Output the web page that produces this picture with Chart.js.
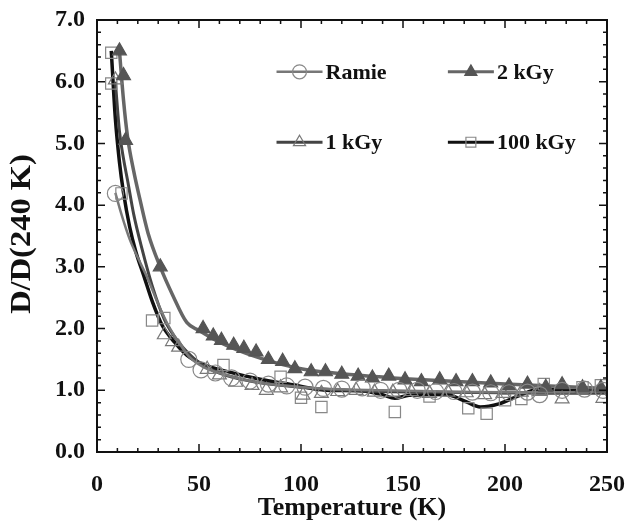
<!DOCTYPE html>
<html>
<head>
<meta charset="utf-8">
<script src="https://cdn.jsdelivr.net/npm/chart.js@4.4.1/dist/chart.umd.min.js"></script>
<style>
  html, body { margin: 0; padding: 0; background: #fff; }
  #wrap { width: 627px; height: 525px; }
</style>
</head>
<body>
<div id="wrap"><canvas id="DiffChart" width="627" height="525"></canvas></div>
<script>
// measured points (markers)
const ramieT = [9, 45, 51, 58, 66, 75, 84, 93, 102, 111, 120, 130, 139, 148, 157, 166, 175, 184, 193, 202, 211, 217, 228, 239, 248];
const ramieD = [4.19, 1.50, 1.33, 1.28, 1.20, 1.15, 1.10, 1.07, 1.05, 1.03, 1.02, 1.04, 1.00, 1.00, 1.00, 0.98, 0.98, 0.97, 0.96, 0.96, 0.97, 0.93, 1.00, 1.02, 1.00];

const kGy1T = [9, 33, 37, 40, 54, 60, 68, 76, 83, 90, 101, 110, 118, 127, 136, 145, 154, 163, 172, 181, 190, 199, 208, 217, 228, 248];
const kGy1D = [6.03, 1.90, 1.79, 1.70, 1.34, 1.25, 1.13, 1.08, 1.00, 1.04, 0.92, 0.95, 0.98, 1.00, 0.97, 0.97, 0.98, 0.95, 0.97, 0.96, 0.93, 0.95, 0.97, 0.98, 0.86, 0.87];

const kGy2T = [11, 13, 14, 31, 52, 57, 61, 67, 72, 78, 84, 91, 97, 105, 112, 120, 128, 135, 143, 151, 159, 168, 176, 184, 193, 202, 211, 220, 228, 238, 247];
const kGy2D = [6.50, 6.10, 5.05, 3.00, 2.00, 1.88, 1.81, 1.73, 1.68, 1.62, 1.50, 1.47, 1.35, 1.30, 1.30, 1.26, 1.23, 1.20, 1.23, 1.17, 1.14, 1.17, 1.14, 1.14, 1.12, 1.07, 1.10, 1.05, 1.09, 1.04, 1.04];

const kGy100T = [7, 7, 12, 27, 33, 62, 90, 100, 110, 146, 163, 182, 191, 200, 208, 219, 238, 247];
const kGy100D = [6.47, 5.97, 4.19, 2.13, 2.17, 1.41, 1.22, 0.88, 0.73, 0.65, 0.90, 0.71, 0.62, 0.84, 0.86, 1.10, 1.05, 1.08];

// fitted curves
const fitRamieT = [9, 12, 16, 20, 25, 30, 35, 40, 45, 52, 60, 75, 90, 110, 140, 170, 200, 230, 250];
const fitRamieD = [4.20, 3.85, 3.45, 3.15, 2.80, 2.40, 2.05, 1.78, 1.55, 1.38, 1.28, 1.15, 1.08, 1.03, 1.00, 0.98, 0.97, 0.97, 0.98];

const fit1T = [9, 11, 13, 15, 18, 22, 27, 33, 40, 50, 60, 75, 90, 110, 140, 170, 200, 230, 250];
const fit1D = [6.00, 5.20, 4.75, 4.40, 3.85, 3.30, 2.70, 2.15, 1.78, 1.45, 1.28, 1.15, 1.08, 1.02, 0.98, 0.97, 0.96, 0.95, 0.95];

const fit2T = [11, 13, 15, 18, 21, 25, 31, 37, 44, 50, 60, 80, 100, 130, 160, 200, 250];
const fit2D = [6.50, 5.70, 5.10, 4.55, 4.10, 3.55, 3.00, 2.55, 2.10, 1.97, 1.78, 1.52, 1.35, 1.24, 1.17, 1.10, 1.03];

const fit100T = [7, 9, 11, 13, 16, 19, 23, 27, 32, 38, 44, 52, 63, 80, 96, 112, 130, 140, 146, 153, 171, 180, 188, 197, 206, 217, 232, 250];
const fit100D = [6.50, 5.40, 4.70, 4.20, 3.65, 3.25, 2.85, 2.45, 2.05, 1.78, 1.57, 1.42, 1.31, 1.18, 1.09, 1.00, 0.99, 0.93, 0.87, 0.92, 0.93, 0.83, 0.73, 0.78, 0.90, 1.02, 1.00, 0.99];

// axis ticks
const xTicks = [0, 50, 100, 150, 200, 250];
const yTicks = [0, 1, 2, 3, 4, 5, 6, 7];
const legendNames = ['Ramie', '2 kGy', '1 kGy', '100 kGy'];

const serif = "'Liberation Serif', 'Times New Roman', serif";

function pts(xs, ys) {
  return xs.map(function (x, i) { return { x: x, y: ys[i] }; });
}

function fitSet(label, xs, ys, color, width) {
  return {
    label: label,
    data: pts(xs, ys),
    showLine: true,
    borderColor: color,
    borderWidth: width,
    pointRadius: 0,
    cubicInterpolationMode: 'monotone',
    fill: false,
    order: 5
  };
}

function markSet(label, xs, ys, style, fillColor, strokeColor, radius) {
  return {
    label: label,
    data: pts(xs, ys),
    showLine: false,
    pointStyle: style,
    pointRadius: radius,
    pointBackgroundColor: fillColor,
    pointBorderColor: strokeColor,
    pointBorderWidth: 1.2,
    order: 1
  };
}

// legend entries: line + marker
const legendItems = [
  { name: legendNames[0], col: 0, row: 0, line: '#777', lw: 2.5, style: 'circle', fill: 'rgba(0,0,0,0)', stroke: '#888' },
  { name: legendNames[1], col: 1, row: 0, line: '#666', lw: 3, style: 'triangle', fill: '#555', stroke: '#555' },
  { name: legendNames[2], col: 0, row: 1, line: '#444', lw: 3, style: 'triangle', fill: 'rgba(0,0,0,0)', stroke: '#777' },
  { name: legendNames[3], col: 1, row: 1, line: '#111', lw: 3, style: 'rect', fill: 'rgba(0,0,0,0)', stroke: '#888' }
];

const framePlugin = {
  id: 'frame',
  afterDraw: function (chart) {
    const ctx = chart.ctx;
    const a = chart.chartArea;
    const xs = chart.scales.x;
    const ys = chart.scales.y;
    ctx.save();
    ctx.strokeStyle = '#111';
    ctx.lineWidth = 2;
    ctx.strokeRect(a.left, a.top, a.right - a.left, a.bottom - a.top);

    ctx.lineWidth = 1.5;
    ctx.beginPath();
    // x ticks, minor every 10
    for (let v = xs.min; v <= xs.max; v += 10) {
      const p = xs.getPixelForValue(v);
      const len = (v % 50 === 0) ? 8 : 4;
      ctx.moveTo(p, a.bottom); ctx.lineTo(p, a.bottom - len);
      ctx.moveTo(p, a.top); ctx.lineTo(p, a.top + len);
    }
    // y ticks, minor every 0.2
    for (let k = 0; k <= 35; k++) {
      const v = k * 0.2;
      const p = ys.getPixelForValue(v);
      const len = (k % 5 === 0) ? 8 : 4;
      ctx.moveTo(a.left, p); ctx.lineTo(a.left + len, p);
      ctx.moveTo(a.right, p); ctx.lineTo(a.right - len, p);
    }
    ctx.stroke();

    // axis titles
    ctx.fillStyle = '#111';
    ctx.textAlign = 'center';
    ctx.textBaseline = 'middle';
    ctx.font = 'bold 26px ' + serif;
    ctx.fillText('Temperature (K)', (a.left + a.right) / 2, 508);
    ctx.save();
    ctx.translate(23, 234);
    ctx.rotate(-Math.PI / 2);
    ctx.scale(1.12, 1);
    ctx.font = 'bold 29px ' + serif;
    ctx.fillText('D/D(240 K)', 0, 0);
    ctx.restore();

    // legend
    const lx0 = xs.getPixelForValue(88);
    const colW = xs.getPixelForValue(172) - lx0;
    const ly0 = ys.getPixelForValue(6.16);
    const rowH = ys.getPixelForValue(5.02) - ly0;
    ctx.font = 'bold 22px ' + serif;
    ctx.textAlign = 'left';
    legendItems.forEach(function (it) {
      const x = lx0 + it.col * colW;
      const y = ly0 + it.row * rowH;
      ctx.strokeStyle = it.line;
      ctx.lineWidth = it.lw;
      ctx.beginPath();
      ctx.moveTo(x, y); ctx.lineTo(x + 46, y);
      ctx.stroke();
      ctx.fillStyle = it.fill;
      ctx.strokeStyle = it.stroke;
      ctx.lineWidth = 1.2;
      Chart.helpers.drawPoint(ctx, { pointStyle: it.style, radius: 7, rotation: 0, borderWidth: 1.2 }, x + 23, y);
      ctx.fillStyle = '#111';
      ctx.fillText(it.name, x + 49, y + 1);
    });
    ctx.restore();
  }
};

const chart_el = document.getElementById('DiffChart');
const ctx = chart_el.getContext('2d');

new Chart(ctx, {
  type: 'scatter',
  data: {
    datasets: [
      fitSet('Ramie fit', fitRamieT, fitRamieD, '#777', 2.5),
      fitSet('2 kGy fit', fit2T, fit2D, '#666', 3.5),
      fitSet('1 kGy fit', fit1T, fit1D, '#444', 3),
      fitSet('100 kGy fit', fit100T, fit100D, '#111', 3.5),
      markSet(legendNames[0], ramieT, ramieD, 'circle', 'rgba(0,0,0,0)', '#888', 8),
      markSet(legendNames[1], kGy2T, kGy2D, 'triangle', '#555', '#555', 8),
      markSet(legendNames[2], kGy1T, kGy1D, 'triangle', 'rgba(0,0,0,0)', '#777', 8),
      markSet(legendNames[3], kGy100T, kGy100D, 'rect', 'rgba(0,0,0,0)', '#888', 8)
    ]
  },
  options: {
    responsive: false,
    animation: false,
    layout: { padding: { top: 20, right: 20, left: 0, bottom: 0 } },
    scales: {
      x: {
        type: 'linear',
        min: 0,
        max: 250,
        afterFit: function (scale) {
          scale.height = 73;
          scale.paddingLeft = 0;
          scale.paddingRight = 0;
        },
        afterBuildTicks: function (scale) {
          scale.ticks = xTicks.map(function (v) { return { value: v }; });
        },
        grid: { display: false },
        border: { display: false },
        ticks: {
          color: '#111',
          padding: 10,
          maxRotation: 0,
          font: { family: serif, size: 24, weight: 'bold' }
        }
      },
      y: {
        type: 'linear',
        min: 0,
        max: 7,
        afterFit: function (scale) {
          scale.width = 97;
          scale.paddingTop = 0;
          scale.paddingBottom = 0;
        },
        afterBuildTicks: function (scale) {
          scale.ticks = yTicks.map(function (v) { return { value: v }; });
        },
        grid: { display: false },
        border: { display: false },
        ticks: {
          color: '#111',
          padding: 4,
          font: { family: serif, size: 24, weight: 'bold' },
          callback: function (v) { return Number(v).toFixed(1); }
        }
      }
    },
    plugins: {
      legend: { display: false },
      tooltip: { enabled: false }
    }
  },
  plugins: [framePlugin]
});
</script>
</body>
</html>
